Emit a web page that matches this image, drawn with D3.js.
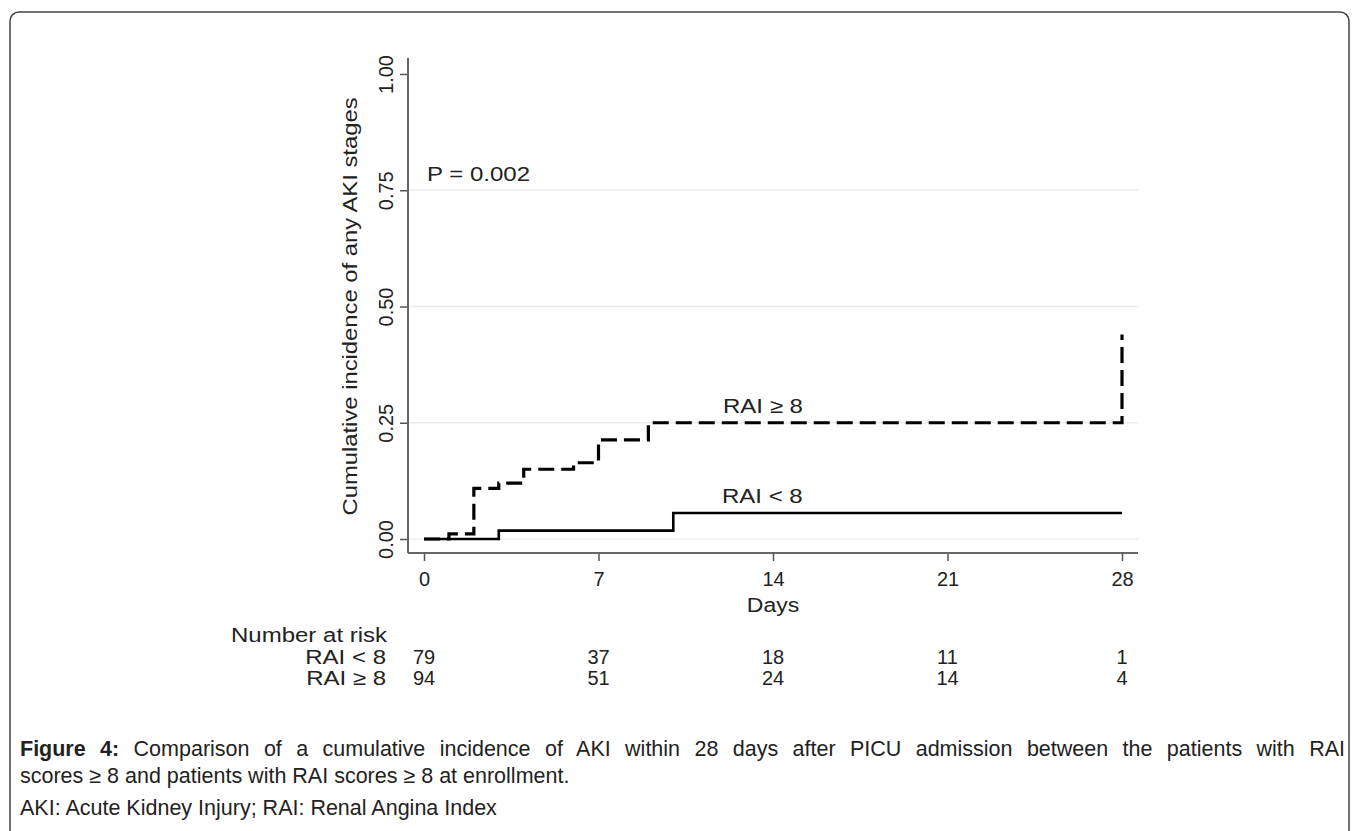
<!DOCTYPE html>
<html>
<head>
<meta charset="utf-8">
<script src="https://cdn.jsdelivr.net/npm/d3@7"></script>
<style>
  body { margin: 0; background: #fff; }
  svg text { font-family: "Liberation Sans", Arial, sans-serif; fill: #222; }
</style>
</head>
<body>
<svg id="chart" width="1358" height="831"></svg>
<script>
// DATA
const dayTicks = [0, 7, 14, 21, 28];
const yTicks = [0, 0.25, 0.5, 0.75, 1];

// RAI < 8 (solid)
const lowTimes = [0, 3, 10, 28];
const lowVals = [0, 0.018, 0.056, 0.056];

// RAI >= 8 (dashed)
const highTimes = [0, 1, 2, 3, 4, 6, 7, 9, 28, 28];
const highVals = [0, 0.011, 0.109, 0.12, 0.15, 0.164, 0.213, 0.25, 0.25, 0.44];

const groups = ['RAI < 8', 'RAI \u2265 8'];
const riskLow = [79, 37, 18, 11, 1];
const riskHigh = [94, 51, 24, 14, 4];

const pText = 'P = 0.002';

//SET UP
const svg = d3.select('#chart');
const FS = 20;

// the graph font is wider than Liberation Sans, so stretch letter text a bit
function stretch(sel, k){
    sel.each(function(){
        let w = this.getComputedTextLength();
        d3.select(this).attr('textLength', w * k).attr('lengthAdjust', 'spacingAndGlyphs');
    });
    return sel;
}

// frame round the figure
svg.append('rect')
    .attr('x', 10).attr('y', 12)
    .attr('width', 1339).attr('height', 900)
    .attr('rx', 9)
    .attr('fill', 'none')
    .attr('stroke', '#444')
    .attr('stroke-width', 1.5);

const x = d3.scaleLinear().domain([0, 28]).range([424, 1122]);
const y = d3.scaleLinear().domain([0, 1]).range([539, 74]);

const axisLeftX = 408;
const axisBottomY = 553;

// grid lines
svg.append('g')
    .selectAll('line')
    .data(yTicks.slice(0, 4))
    .enter()
    .append('line')
    .attr('x1', axisLeftX)
    .attr('x2', 1138)
    .attr('y1', d => y(d))
    .attr('y2', d => y(d))
    .attr('stroke', '#e8eeee')
    .attr('stroke-width', 1.5);

// y axis
let gy = svg.append('g')
    .attr('transform', `translate(${axisLeftX},0)`)
    .call(d3.axisLeft(y).tickValues(yTicks).tickFormat(d3.format('.2f')).tickSize(8).tickPadding(0));
gy.select('.domain').remove();
gy.selectAll('.tick line').attr('stroke', '#555').attr('stroke-width', 1.5);
gy.selectAll('.tick text')
    .attr('x', 0).attr('dy', 0)
    .attr('text-anchor', 'middle')
    .attr('transform', 'translate(-15,0) rotate(-90)')
    .style('font-size', FS + 'px')
    .attr('fill', '#222');

// x axis
let gx = svg.append('g')
    .attr('transform', `translate(0,${axisBottomY})`)
    .call(d3.axisBottom(x).tickValues(dayTicks).tickSize(8).tickPadding(11));
gx.select('.domain').remove();
gx.selectAll('.tick line').attr('stroke', '#555').attr('stroke-width', 1.5);
gx.selectAll('.tick text').style('font-size', FS + 'px').attr('fill', '#222');

// axis lines
svg.append('line')
    .attr('x1', axisLeftX).attr('x2', axisLeftX)
    .attr('y1', 58).attr('y2', axisBottomY)
    .attr('stroke', '#666').attr('stroke-width', 2);
svg.append('line')
    .attr('x1', axisLeftX).attr('x2', 1138)
    .attr('y1', axisBottomY).attr('y2', axisBottomY)
    .attr('stroke', '#666').attr('stroke-width', 2);

// axis titles
stretch(svg.append('text')
    .attr('transform', `translate(357,${(y(0) + y(1)) / 2}) rotate(-90)`)
    .attr('text-anchor', 'middle')
    .style('font-size', FS + 'px')
    .text('Cumulative incidence of any AKI stages'), 1.19);

stretch(svg.append('text')
    .attr('x', x(14)).attr('y', 612)
    .attr('text-anchor', 'middle')
    .style('font-size', FS + 'px')
    .text('Days'), 1.15);

// curves
const stepLine = d3.line()
    .x(d => x(d[0]))
    .y(d => y(d[1]))
    .curve(d3.curveStepAfter);

svg.append('path')
    .datum(lowTimes.map((t, i) => [t, lowVals[i]]))
    .attr('d', stepLine)
    .attr('fill', 'none')
    .attr('stroke', '#000')
    .attr('stroke-width', 2.6);

svg.append('path')
    .datum(highTimes.map((t, i) => [t, highVals[i]]))
    .attr('d', stepLine)
    .attr('fill', 'none')
    .attr('stroke', '#000')
    .attr('stroke-width', 3.2)
    .attr('stroke-dasharray', '16,7');

// labels in plot
stretch(svg.append('text')
    .attr('x', 427).attr('y', y(0.75) - 9)
    .style('font-size', FS + 'px')
    .text(pText), 1.2);

stretch(svg.append('text')
    .attr('x', 723).attr('y', y(0.25) - 10)
    .style('font-size', FS + 'px')
    .text(groups[1]), 1.2);

stretch(svg.append('text')
    .attr('x', 722).attr('y', y(0.056) - 10)
    .style('font-size', FS + 'px')
    .text(groups[0]), 1.2);

// number at risk
stretch(svg.append('text')
    .attr('x', 231).attr('y', 642)
    .style('font-size', FS + 'px')
    .text('Number at risk'), 1.2);

const riskRows = [riskLow, riskHigh];
riskRows.forEach(function(row, r){
    let ry = 664 + r * 21;
    stretch(svg.append('text')
        .attr('x', 386).attr('y', ry)
        .attr('text-anchor', 'end')
        .style('font-size', FS + 'px')
        .text(groups[r]), 1.2);
    svg.append('g')
        .selectAll('text')
        .data(row)
        .enter()
        .append('text')
        .attr('x', (d, i) => x(dayTicks[i]))
        .attr('y', ry)
        .attr('text-anchor', 'middle')
        .style('font-size', FS + 'px')
        .text(d => d);
});

// caption
const capFS = 21.5;
let cap1 = svg.append('text')
    .attr('x', 20).attr('y', 756)
    .style('font-size', capFS + 'px');
cap1.append('tspan').style('font-weight', 'bold').text('Figure 4:');
cap1.append('tspan').text(' Comparison of a cumulative incidence of AKI within 28 days after PICU admission between the patients with RAI');
// first line is justified in the page
let capWidth = cap1.node().getComputedTextLength();
let spaces = cap1.text().split(' ').length - 1;
cap1.style('word-spacing', ((1325 - capWidth) / spaces) + 'px');

svg.append('text')
    .attr('x', 20).attr('y', 783)
    .style('font-size', capFS + 'px')
    .text('scores \u2265 8 and patients with RAI scores \u2265 8 at enrollment.');

svg.append('text')
    .attr('x', 20).attr('y', 815)
    .style('font-size', capFS + 'px')
    .text('AKI: Acute Kidney Injury; RAI: Renal Angina Index');
</script>
</body>
</html>
